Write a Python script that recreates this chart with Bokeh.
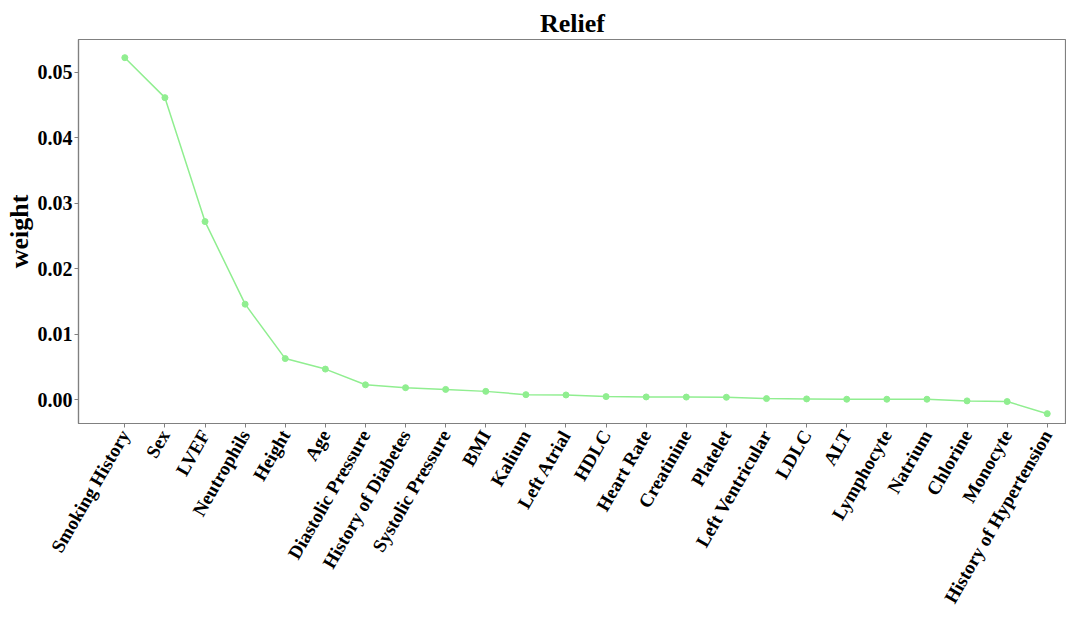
import math
from bokeh.plotting import figure
from bokeh.models import FixedTicker, PrintfTickFormatter, Range1d
from bokeh.embed import file_html
from bokeh.resources import INLINE

features = ["Smoking History", "Sex", "LVEF", "Neutrophils", "Height", "Age",
            "Diastolic Pressure", "History of Diabetes", "Systolic Pressure", "BMI",
            "Kalium", "Left Atrial", "HDLC", "Heart Rate", "Creatinine", "Platelet",
            "Left Ventricular", "LDLC", "ALT", "Lymphocyte", "Natrium", "Chlorine",
            "Monocyte", "History of Hypertension"]
weights = [0.0522, 0.0461, 0.0272, 0.0146, 0.0063, 0.0047,
           0.0023, 0.00186, 0.0016, 0.0013,
           0.0008, 0.00075, 0.0005, 0.00045, 0.00043, 0.0004,
           0.0002, 0.00015, 0.0001, 0.0001, 0.0001, -0.00015,
           -0.00025, -0.0021]
y_ticks = [0.00, 0.01, 0.02, 0.03, 0.04, 0.05]

FONT = "Liberation Serif"
GREEN = "#90EE90"
AXIS = "#808080"

xs = list(range(len(features)))

p = figure(width=1066, height=615, output_backend="svg", toolbar_location=None,
           x_range=Range1d(-1.155, 23.48), y_range=Range1d(-0.0036, 0.05497),
           min_border_left=78, min_border_right=0, min_border_bottom=182, min_border_top=39)

p.title.text = "Relief"
p.title.align = "center"
p.title.text_font = FONT
p.title.text_font_size = "26px"
p.title.text_font_style = "bold"
p.title.text_color = "black"
p.title.standoff = 4

p.line(xs, weights, line_color=GREEN, line_width=1.5)
p.scatter(xs, weights, size=6, fill_color=GREEN, line_color=GREEN)

p.xgrid.visible = False
p.ygrid.visible = False
p.outline_line_color = AXIS
p.outline_line_width = 1.2

p.xaxis.ticker = FixedTicker(ticks=xs)
p.xaxis.major_label_overrides = {i: f for i, f in enumerate(features)}
p.xaxis.major_label_orientation = math.pi / 3
p.xaxis.major_label_text_font = FONT
p.xaxis.major_label_text_font_size = "19px"
p.xaxis.major_label_text_font_style = "bold"
p.xaxis.major_label_text_color = "black"
p.xaxis.major_label_text_line_height = 1.0
p.xaxis.major_label_standoff = 4
p.xaxis.minor_tick_line_color = None

p.yaxis.ticker = FixedTicker(ticks=y_ticks)
p.yaxis.formatter = PrintfTickFormatter(format="%.2f")
p.yaxis.major_label_text_font = FONT
p.yaxis.major_label_text_font_size = "20px"
p.yaxis.major_label_text_font_style = "bold"
p.yaxis.major_label_text_color = "black"
p.yaxis.major_label_standoff = 2
p.yaxis.axis_label = "weight"
p.yaxis.axis_label_text_font = FONT
p.yaxis.axis_label_text_font_size = "26px"
p.yaxis.axis_label_text_font_style = "bold"
p.yaxis.axis_label_text_color = "black"
p.yaxis.axis_label_standoff = 1
p.yaxis.minor_tick_line_color = None

for ax in (p.xaxis, p.yaxis):
    ax.axis_line_color = AXIS
    ax.axis_line_width = 1.2
    ax.major_tick_line_color = AXIS
    ax.major_tick_out = 4
    ax.major_tick_in = 0

open("out.html", "w").write(file_html(p, INLINE))
